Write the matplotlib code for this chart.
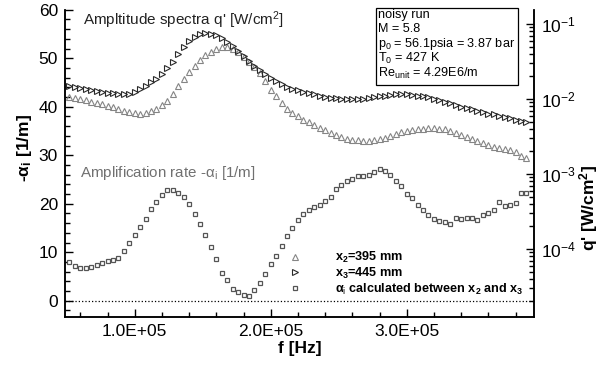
import numpy as np
import matplotlib
matplotlib.use('Agg')
import matplotlib.pyplot as plt
from matplotlib.ticker import MultipleLocator, FuncFormatter, LogLocator, NullFormatter
from matplotlib.lines import Line2D
from matplotlib.patches import Rectangle

plt.rcParams['font.family'] = ['Liberation Sans', 'DejaVu Sans']
plt.rcParams['mathtext.fontset'] = 'custom'
plt.rcParams['mathtext.rm'] = 'Liberation Sans'
plt.rcParams['mathtext.it'] = 'Liberation Sans:italic'
plt.rcParams['mathtext.bf'] = 'Liberation Sans:bold'

# frequency bins [Hz], 4 kHz resolution
freq = np.arange(52e3, 389e3, 4e3)

# log10 of heat-flux amplitude q' [W/cm^2] at x2 = 395 mm
q_x2_log = [
    -1.979, -1.992, -2.005, -2.018, -2.038, -2.051, -2.070, -2.089, -2.109, -2.128,
    -2.154, -2.173, -2.186, -2.193, -2.186, -2.160, -2.128, -2.083, -2.025, -1.934,
    -1.824, -1.727, -1.643, -1.553, -1.475, -1.410, -1.371, -1.339, -1.307, -1.300,
    -1.339, -1.378, -1.443, -1.501, -1.572, -1.656, -1.766, -1.876, -1.960, -2.051,
    -2.128, -2.180, -2.232, -2.277, -2.309, -2.348, -2.387, -2.419, -2.451, -2.484,
    -2.510, -2.529, -2.542, -2.548, -2.555, -2.555, -2.548, -2.536, -2.516, -2.490,
    -2.464, -2.445, -2.426, -2.413, -2.400, -2.393, -2.387, -2.387, -2.400, -2.406,
    -2.426, -2.451, -2.477, -2.503, -2.529, -2.561, -2.587, -2.613, -2.633, -2.652,
    -2.665, -2.684, -2.710, -2.755, -2.788]

# log10 of heat-flux amplitude q' [W/cm^2] at x3 = 445 mm
q_x3_log = [
    -1.831, -1.843, -1.856, -1.869, -1.882, -1.889, -1.902, -1.915, -1.921, -1.928,
    -1.934, -1.928, -1.902, -1.869, -1.824, -1.779, -1.727, -1.663, -1.591, -1.501,
    -1.397, -1.307, -1.229, -1.171, -1.139, -1.126, -1.132, -1.152, -1.190, -1.242,
    -1.294, -1.365, -1.430, -1.488, -1.559, -1.611, -1.663, -1.721, -1.766, -1.805,
    -1.837, -1.863, -1.882, -1.902, -1.921, -1.934, -1.954, -1.973, -1.986, -1.992,
    -1.999, -2.005, -2.005, -2.005, -1.999, -1.992, -1.979, -1.966, -1.954, -1.947,
    -1.934, -1.928, -1.928, -1.941, -1.954, -1.966, -1.979, -1.999, -2.018, -2.038,
    -2.057, -2.076, -2.102, -2.115, -2.135, -2.154, -2.173, -2.193, -2.206, -2.225,
    -2.245, -2.257, -2.277, -2.290, -2.303]

# amplification rate -alpha_i [1/m] between x2 and x3
alpha_i = [
    7.9, 7.2, 6.8, 6.7, 7.0, 7.4, 7.7, 8.2, 8.3, 8.9,
    10.3, 11.9, 13.5, 15.1, 16.8, 19.0, 20.3, 21.8, 22.8, 22.9,
    22.3, 21.4, 20.0, 17.9, 15.9, 13.6, 11.1, 8.5, 5.7, 4.3,
    2.5, 1.7, 1.2, 1.0, 2.3, 3.6, 5.5, 7.6, 9.3, 11.3,
    13.3, 15.0, 16.6, 17.9, 18.8, 19.4, 19.7, 20.6, 21.4, 23.0,
    23.9, 24.7, 25.0, 25.7, 25.8, 25.9, 26.6, 27.1, 26.7, 25.9,
    24.7, 23.7, 22.1, 21.1, 19.8, 18.8, 17.6, 16.8, 16.5, 16.2,
    15.9, 17.1, 16.8, 17.0, 17.1, 16.6, 17.7, 18.1, 18.8, 20.3,
    19.6, 19.8, 20.1, 22.2, 22.2]

q_x2 = 10.0 ** np.array(q_x2_log)
q_x3 = 10.0 ** np.array(q_x3_log)

c_x2 = '#858585'
c_x3 = '#2a2a2a'
c_alpha = '#555555'
tri_ms = 5.0
sq_ms = 3.2

W, H = 606, 366
fig = plt.figure(figsize=(W / 100, H / 100), dpi=100)
ax = fig.add_axes([65 / W, 1 - 317 / H, (534 - 65) / W, (317 - 9.7) / H])
ax2 = ax.twinx()

# amplification rate on the linear axis
ax.plot(freq, alpha_i, ls='none', marker='s', ms=sq_ms, mfc='white',
        mec=c_alpha, mew=0.9)
ax.axhline(0, color='k', ls=':', lw=0.9)
ax.set_xlim(4.875e4, 3.936e5)
ax.set_ylim(-3.36, 60)

# spectra on the log axis
ax2.set_yscale('log')
ax2.plot(freq, q_x2, ls='none', marker='^', ms=tri_ms, mfc='none',
         mec=c_x2, mew=0.8)
ax2.plot(freq, q_x3, ls='none', marker='>', ms=tri_ms, mfc='none',
         mec=c_x3, mew=0.8)
ax2.set_ylim(10 ** -4.906, 10 ** -0.809)

for a in (ax, ax2):
    a.spines['top'].set_visible(False)
    for s in a.spines.values():
        s.set_linewidth(1.1)

ax.xaxis.set_major_locator(MultipleLocator(1e5))
ax.xaxis.set_minor_locator(MultipleLocator(2e4))
ax.xaxis.set_major_formatter(FuncFormatter(lambda v, p: '%.1E' % v))
ax.yaxis.set_major_locator(MultipleLocator(10))
ax.yaxis.set_minor_locator(MultipleLocator(2))
ax.tick_params(axis='both', which='both', direction='in', top=False,
               right=False, labelsize=12.5, width=1.0)
ax.tick_params(which='major', length=6, pad=5)
ax.tick_params(which='minor', length=3.5)

ax2.yaxis.set_major_locator(LogLocator(base=10, numticks=10))
ax2.yaxis.set_minor_locator(LogLocator(base=10, subs=np.arange(2, 10), numticks=10))
ax2.yaxis.set_minor_formatter(NullFormatter())
ax2.tick_params(axis='y', which='both', direction='in', labelsize=12.5, width=1.0)
ax2.tick_params(which='major', length=6, pad=5)
ax2.tick_params(which='minor', length=3.5)

# axis titles
fig.text(300 / W, 1 - 349 / H, 'f [Hz]', ha='center', va='center',
         fontsize=12.5, weight='bold')
fig.text(25 / W, 1 - 148 / H, '-α$_\\mathbf{i}$ [1/m]', ha='center', va='center',
         rotation=90, fontsize=12.5, weight='bold')
fig.text(589 / W, 1 - 208 / H, "q' [W/cm$^\\mathbf{2}$]", ha='center', va='center',
         rotation=90, fontsize=12.5, weight='bold')

# curve annotations
fig.text(83 / W, 1 - 20 / H, "Ampltitude spectra q' [W/cm$^\\mathrm{2}$]",
         ha='left', va='center', fontsize=11, color='#222222')
fig.text(80 / W, 1 - 173 / H, 'Amplification rate -α$_\\mathrm{i}$ [1/m]',
         ha='left', va='center', fontsize=10.9, color='#707070')

# run conditions box
fig.patches.append(Rectangle((376 / W, 1 - 85 / H), (518 - 376) / W, (85 - 8) / H,
                             transform=fig.transFigure, fill=False,
                             edgecolor='k', linewidth=0.9))
info = ['noisy run', 'M = 5.8', 'p$_\\mathrm{0}$ = 56.1psia = 3.87 bar',
        'T$_\\mathrm{0}$ = 427 K', 'Re$_\\mathrm{unit}$ = 4.29E6/m']
for i, line in enumerate(info):
    fig.text(378 / W, 1 - (15 + 14.5 * i) / H, line, ha='left', va='center',
             fontsize=9.1)

# marker legend
handles = [
    Line2D([], [], ls='none', marker='^', ms=tri_ms, mfc='none', mec=c_x2, mew=0.8),
    Line2D([], [], ls='none', marker='>', ms=tri_ms, mfc='none', mec=c_x3, mew=0.8),
    Line2D([], [], ls='none', marker='s', ms=sq_ms, mfc='white', mec=c_alpha, mew=0.9),
]
labels = ['x$_\\mathbf{2}$=395 mm', 'x$_\\mathbf{3}$=445 mm',
          'α$_\\mathrm{i}$ calculated between x$_\\mathbf{2}$ and x$_\\mathbf{3}$']
leg = ax.legend(handles, labels, loc='upper left', frameon=False,
                bbox_to_anchor=(288.7 / W, 1 - 250 / H), bbox_transform=fig.transFigure,
                handlelength=1.0, handletextpad=2.66, labelspacing=0.05,
                borderpad=0, borderaxespad=0, prop={'size': 9.1, 'weight': 'bold'})

fig.savefig('out.png', dpi=100)
